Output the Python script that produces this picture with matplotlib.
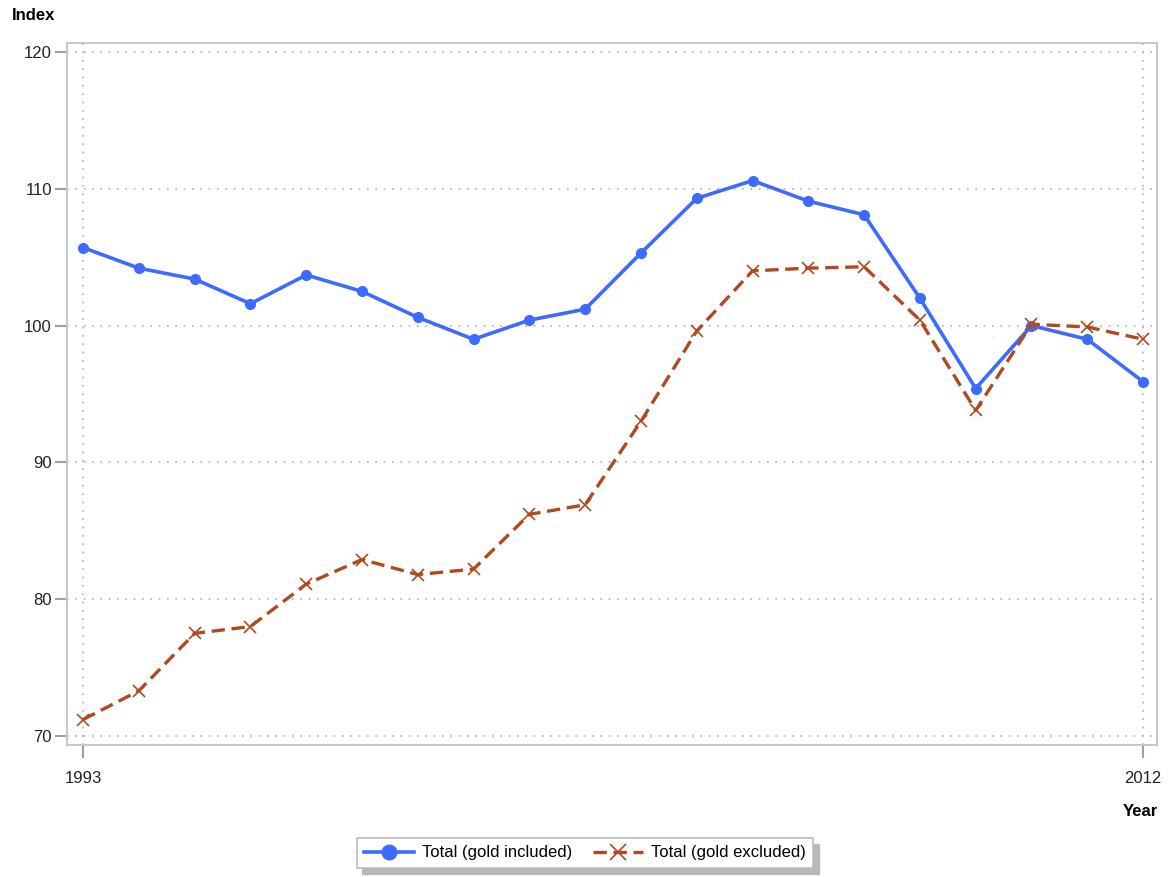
import matplotlib
matplotlib.use("Agg")
import matplotlib.pyplot as plt
from matplotlib.patches import Rectangle

plt.rcParams['font.family'] = ['Liberation Sans', 'DejaVu Sans']

# Data
years = list(range(1993, 2013))
gold_included = [105.7, 104.2, 103.4, 101.6, 103.7, 102.5, 100.6, 99.0, 100.4, 101.2,
                 105.3, 109.3, 110.6, 109.1, 108.1, 102.0, 95.4, 100.0, 99.0, 95.9]
gold_excluded = [71.2, 73.3, 77.5, 78.0, 81.1, 82.9, 81.8, 82.2, 86.2, 86.9,
                 93.0, 99.6, 104.0, 104.2, 104.3, 100.4, 93.8, 100.1, 99.9, 99.0]
y_ticks = [70, 80, 90, 100, 110, 120]
x_ticks = [1993, 2012]

blue = '#3d6bff'
brown = '#b04a1e'
frame = '#c8c8c8'

fig = plt.figure(figsize=(11.72, 8.77), dpi=100)
ax = fig.add_axes([0.0572, 0.1505, 0.930, 0.8005])

ax.plot(years, gold_included, color=blue, lw=2.6, marker='o', markersize=7,
        label='Total (gold included)', zorder=3)
ax.plot(years, gold_excluded, color=brown, lw=2.4, ls=(0, (4, 2)), marker='x',
        markersize=8, markeredgewidth=1.2, label='Total (gold excluded)', zorder=3)

ax.set_xlim(1992.713, 2012.25)
ax.set_ylim(69.34, 120.66)
ax.set_xticks(x_ticks)
ax.set_yticks(y_ticks)
ax.grid(True, color='#b0b0b0', ls=(0, (1, 4)), lw=1.2)

for s in ax.spines.values():
    s.set_color(frame)
    s.set_linewidth(1.5)
ax.tick_params(colors='#a0a0a0', length=9, width=1.5, labelsize=12, labelcolor='#222222')
ax.tick_params(axis='x', pad=10)
ax.tick_params(axis='y', pad=2)

fig.text(12 / 1172, 1 - 16 / 877, 'Index', fontsize=12, fontweight='bold', va='center', ha='left')
fig.text(1158 / 1172, 1 - 812 / 877, 'Year', fontsize=12, fontweight='bold', va='center', ha='right')

# legend with a drop shadow
leg = fig.legend(loc='center', bbox_to_anchor=(585 / 1172, 1 - 853 / 877), ncol=2,
                 fontsize=12, frameon=True, fancybox=False, shadow=False, markerscale=1.5,
                 framealpha=1.0, handlelength=3.0, columnspacing=1.2, borderpad=0.45,
                 handletextpad=0.5)
leg.get_frame().set_facecolor('white')
leg.get_frame().set_edgecolor('#bbbbbb')
leg.get_frame().set_linewidth(1.2)
fig.canvas.draw()
bb = leg.get_window_extent().transformed(fig.transFigure.inverted())
fig.patches.append(Rectangle((bb.x0 + 0.005, bb.y0 - 0.007), bb.width, bb.height,
                             transform=fig.transFigure, color='#b8b8b8', zorder=0))

fig.savefig('out.png', dpi=100)
